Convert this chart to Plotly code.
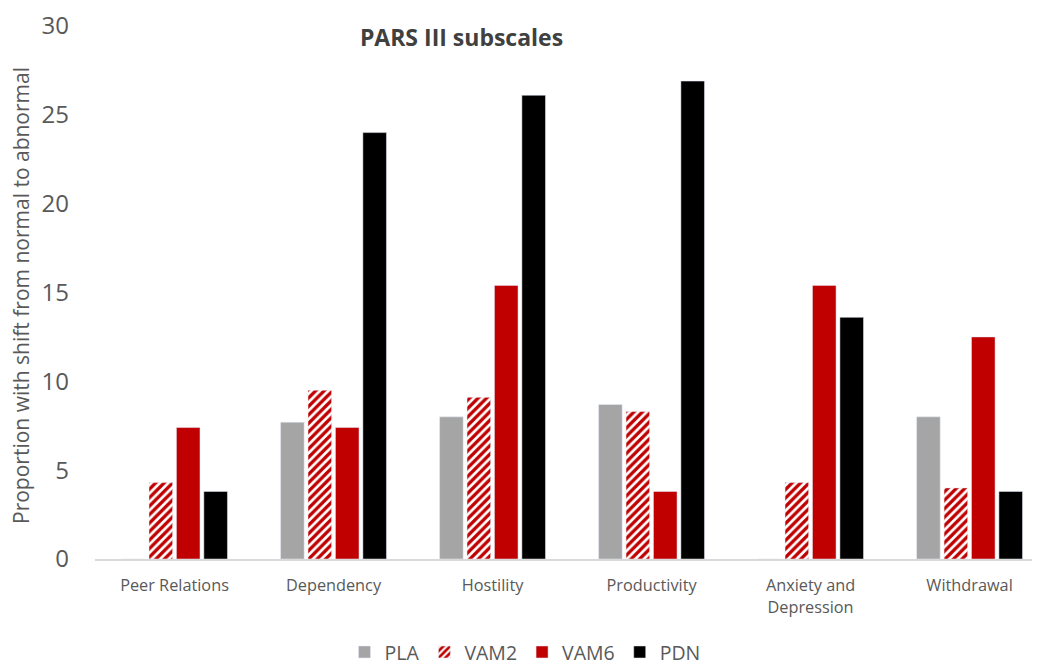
import plotly.graph_objects as go

categories = ["Peer Relations", "Dependency", "Hostility", "Productivity",
              "Anxiety and<br>Depression", "Withdrawal"]
pla = [0, 7.7, 8.0, 8.7, 0, 8.0]
vam2 = [4.3, 9.5, 9.1, 8.3, 4.3, 4.0]
vam6 = [7.4, 7.4, 15.4, 3.8, 15.4, 12.5]
pdn = [3.8, 24.0, 26.1, 26.9, 13.6, 3.8]
y_ticks = [0, 5, 10, 15, 20, 25, 30]

FONT = "Open Sans"
GRAY_TXT = "#595959"

# page body has an 8px default margin -> figure is drawn 8px right/down
W, H = 1032, 658
L, T, B = 87, 17.5, 106.5
plot_w = W - L
plot_h = H - T - B

fig = go.Figure()
fig.add_trace(go.Bar(name="PLA", x=categories, y=pla, marker=dict(color="#A5A5A5")))
fig.add_trace(go.Bar(name="VAM2", x=categories, y=vam2,
                     marker=dict(color="white",
                                 pattern=dict(shape="/", fgcolor="#C00000", bgcolor="white",
                                              fgopacity=1, size=6, solidity=0.55,
                                              fillmode="overlay"))))
fig.add_trace(go.Bar(name="VAM6", x=categories, y=vam6, marker=dict(color="#C00000")))
fig.add_trace(go.Bar(name="PDN", x=categories, y=pdn, marker=dict(color="#000000")))

fig.add_annotation(text="Proportion with shift from normal to abnormal", textangle=-90,
                   xref="paper", yref="paper", x=(13 - L) / plot_w, xanchor="center",
                   y=(H - B - 288) / plot_h, yanchor="middle", showarrow=False,
                   font=dict(size=21, color=GRAY_TXT, family=FONT))

fig.update_layout(
    width=W, height=H,
    margin=dict(l=L, r=0, t=T, b=B, autoexpand=False),
    plot_bgcolor="white", paper_bgcolor="white",
    barmode="group", bargap=0.31, bargroupgap=0.14,
    font=dict(family=FONT, color=GRAY_TXT),
    title=dict(text="<b>PARS III subscales</b>", x=453.5 / W, xref="container", xanchor="center",
               y=1 - 29.5 / H, yref="container", yanchor="middle",
               font=dict(size=23, color="#404040", family=FONT)),
    showlegend=True,
    legend=dict(orientation="h", x=(517 - L) / plot_w, xanchor="center",
                y=(H - B - 645) / plot_h, yanchor="middle",
                font=dict(size=19.5, color=GRAY_TXT), itemwidth=30, traceorder="normal"),
    xaxis=dict(showline=True, linecolor="#D9D9D9", linewidth=1.5, showgrid=False,
               ticks="", tickfont=dict(size=16.3, color=GRAY_TXT),
               range=[-0.5, 5.443], ticklabelstandoff=11, automargin=False),
    yaxis=dict(range=[0, 30], tickvals=y_ticks, showgrid=False, zeroline=False, showline=False,
               tickfont=dict(size=24, color=GRAY_TXT), ticklabelstandoff=25, automargin=False),
)

fig.write_html("out.html")
